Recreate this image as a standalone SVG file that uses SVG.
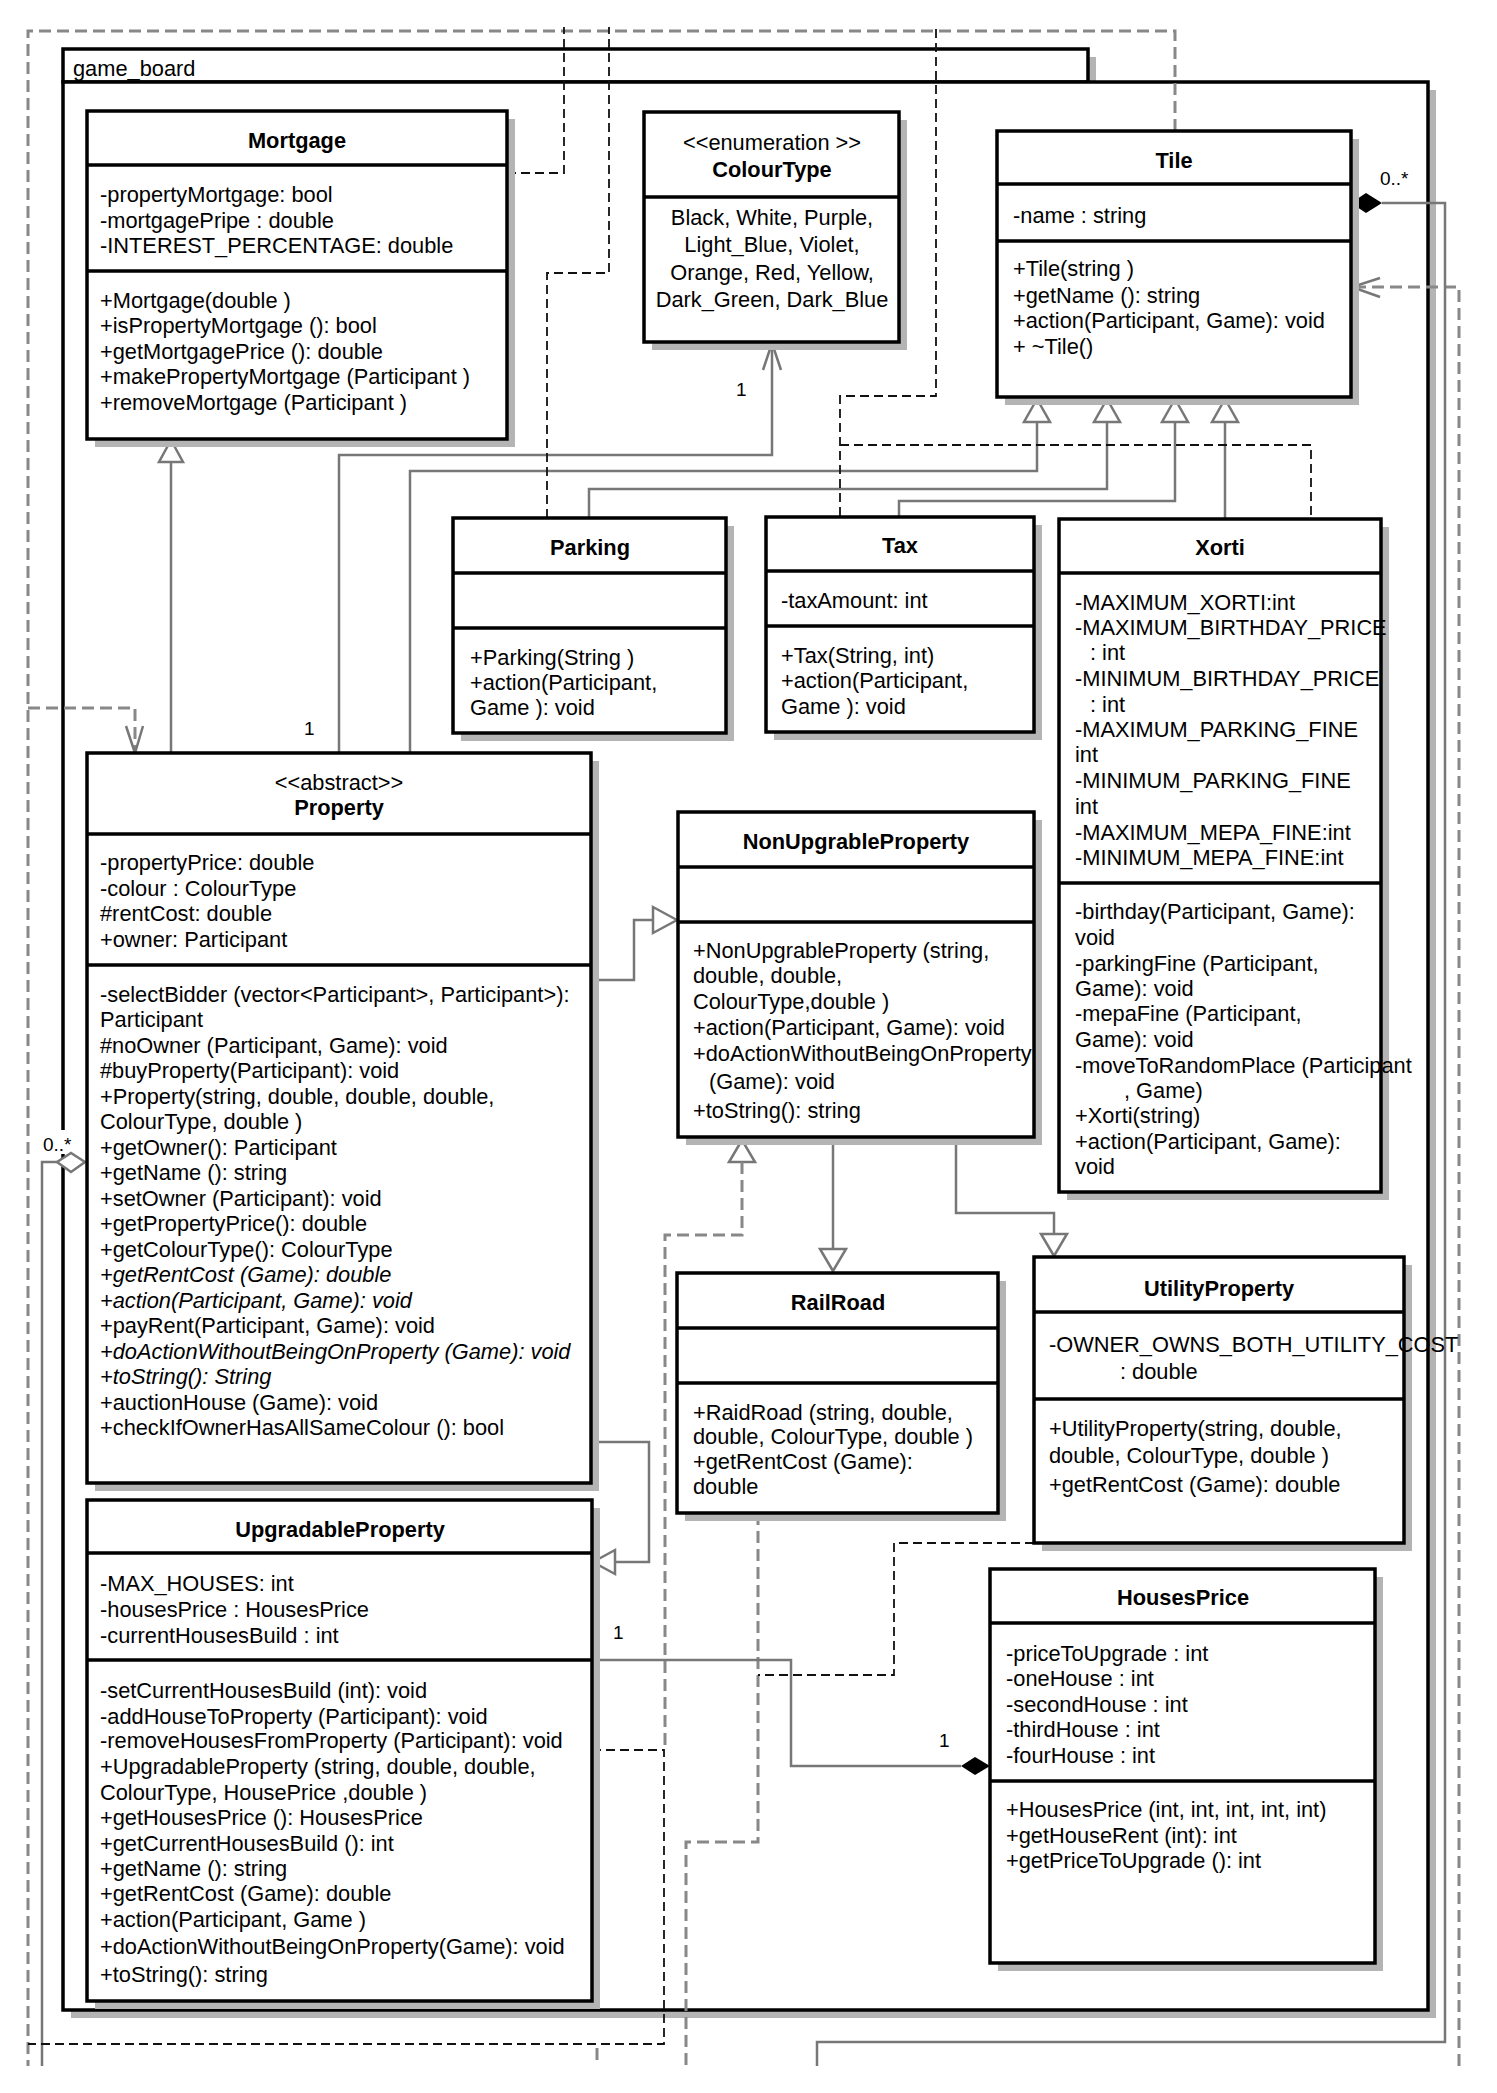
<svg xmlns="http://www.w3.org/2000/svg" width="1497" height="2093" viewBox="0 0 1497 2093">
<style>
.t{font-family:"Liberation Sans",Arial,sans-serif;font-size:21.8px;fill:#000}
.b{font-weight:bold;text-anchor:middle}
.c{text-anchor:middle}
.i{font-style:italic}
.lbl{font-family:"Liberation Sans",Arial,sans-serif;font-size:19px;fill:#000}
.box{fill:#fff;stroke:#000;stroke-width:3.5}
.sh{fill:#b4b4b4}
.sep{stroke:#000;stroke-width:3.5}
.g{stroke:#777;stroke-width:2.5;fill:none}
.gd{stroke:#888;stroke-width:3;fill:none;stroke-dasharray:12 6}
.kd{stroke:#111;stroke-width:1.8;fill:none;stroke-dasharray:9 5}
.tri{fill:#fff;stroke:#777;stroke-width:2.5}
</style>
<rect width="1497" height="2093" fill="#fff"/>
<g id="package">
<rect class="sh" x="71" y="57" width="1025" height="33"/>
<rect class="sh" x="71" y="90" width="1365" height="1928"/>
<rect class="box" x="63" y="49" width="1025" height="33"/>
<rect class="box" x="63" y="82" width="1365" height="1928"/>
<text class="t" x="73" y="76">game_board</text>
</g>
<g id="connectors">
<path class="gd" d="M1175,131 V31 H28 V2066"/>
<path class="gd" d="M28,708 H135 V750"/>
<path class="g" d="M126,726 L135,753 L143,726"/>
<path class="gd" d="M1459,2066 V287 H1354"/>
<path class="g" d="M1380,278 L1352,287 L1380,297"/>
<path class="g" d="M1382,203 H1445 V2042 H817 V2066"/>
<polygon points="1351,203 1366,193 1382,203 1366,213" fill="#000"/>
<rect x="40" y="1130" width="38" height="24" fill="#fff"/>
<path class="g" d="M57,1162 H42 V2066"/>
<polygon points="57,1162 71,1153 85,1162 71,1172" fill="#fff" stroke="#777" stroke-width="2.5"/>
<path class="g" d="M171,753 V462"/>
<polygon class="tri" points="171,440 159,462 183,462"/>
<path class="g" d="M339,753 V455 H772 V344"/>
<path class="g" d="M763,370 L772,343 L781,370"/>
<path class="g" d="M410,753 V471 H1037 V422"/>
<path class="g" d="M589,518 V489 H1107 V422"/>
<path class="g" d="M899,517 V501 H1175 V422"/>
<path class="g" d="M1225,519 V422"/>
<polygon class="tri" points="1037,399 1024,422 1050,422"/>
<polygon class="tri" points="1107,399 1094,422 1120,422"/>
<polygon class="tri" points="1175,399 1162,422 1188,422"/>
<polygon class="tri" points="1225,399 1212,422 1238,422"/>
<path class="kd" d="M507,173 H564 V27"/>
<path class="kd" d="M547,518 V273 H609 V27"/>
<path class="kd" d="M840,516 V396 H936 V27"/>
<path class="kd" d="M840,445 H1311 V519"/>
<path class="g" d="M591,980 H634 V920 H653"/>
<polygon class="tri" points="677,920 653,907 653,933"/>
<path class="g" d="M591,1442 H649 V1562 H615"/>
<polygon class="tri" points="593,1562 615,1550 615,1574"/>
<path class="g" d="M833,1137 V1249"/>
<polygon class="tri" points="833,1271 820,1249 846,1249"/>
<path class="g" d="M956,1137 V1213 H1054 V1234"/>
<polygon class="tri" points="1054,1256 1041,1234 1067,1234"/>
<polygon class="tri" points="742,1140 729,1162 755,1162"/>
<path class="gd" d="M742,1162 V1235 H665 V1750"/>
<path class="kd" d="M592,1750 H664 V2044 H28"/>
<path class="gd" d="M597,2048 V2066"/>
<path class="gd" d="M758,1513 V1842 H686 V2066"/>
<path class="kd" d="M1034,1543 H894 V1675 H758"/>
<path class="g" d="M592,1660 H791 V1766 H961"/>
<polygon points="961,1766 975,1757 990,1766 975,1775" fill="#000"/>
<text class="lbl" x="304" y="735">1</text>
<text class="lbl" x="736" y="396">1</text>
<text class="lbl" x="1380" y="185">0..*</text>
<text class="lbl" x="43" y="1151">0..*</text>
<text class="lbl" x="613" y="1639">1</text>
<text class="lbl" x="939" y="1747">1</text>
</g>
<g id="Mortgage">
<rect class="sh" x="95" y="119" width="420" height="328"/>
<rect class="box" x="87" y="111" width="420" height="328"/>
<line class="sep" x1="87" y1="165" x2="507" y2="165"/>
<line class="sep" x1="87" y1="271" x2="507" y2="271"/>
<text class="t b" x="297" y="148">Mortgage</text>
<text class="t" x="100" y="202">-propertyMortgage: bool</text>
<text class="t" x="100" y="228">-mortgagePripe : double</text>
<text class="t" x="100" y="253">-INTEREST_PERCENTAGE: double</text>
<text class="t" x="100" y="308">+Mortgage(double )</text>
<text class="t" x="100" y="333">+isPropertyMortgage (): bool</text>
<text class="t" x="100" y="359">+getMortgagePrice (): double</text>
<text class="t" x="100" y="384">+makePropertyMortgage (Participant )</text>
<text class="t" x="100" y="410">+removeMortgage (Participant )</text>
</g>
<g id="ColourType">
<rect class="sh" x="652" y="120" width="255" height="230"/>
<rect class="box" x="644" y="112" width="255" height="230"/>
<line class="sep" x1="644" y1="197" x2="899" y2="197"/>
<text class="t c" x="772" y="150">&lt;&lt;enumeration &gt;&gt;</text>
<text class="t b" x="772" y="177">ColourType</text>
<text class="t c" x="772" y="225">Black, White, Purple,</text>
<text class="t c" x="772" y="252">Light_Blue, Violet,</text>
<text class="t c" x="772" y="280">Orange, Red, Yellow,</text>
<text class="t c" x="772" y="307">Dark_Green, Dark_Blue</text>
</g>
<g id="Tile">
<rect class="sh" x="1005" y="139" width="354" height="266"/>
<rect class="box" x="997" y="131" width="354" height="266"/>
<line class="sep" x1="997" y1="184" x2="1351" y2="184"/>
<line class="sep" x1="997" y1="241" x2="1351" y2="241"/>
<text class="t b" x="1174" y="168">Tile</text>
<text class="t" x="1013" y="223">-name : string</text>
<text class="t" x="1013" y="276">+Tile(string )</text>
<text class="t" x="1013" y="303">+getName (): string</text>
<text class="t" x="1013" y="328">+action(Participant, Game): void</text>
<text class="t" x="1013" y="354">+ ~Tile()</text>
</g>
<g id="Parking">
<rect class="sh" x="461" y="526" width="273" height="215"/>
<rect class="box" x="453" y="518" width="273" height="215"/>
<line class="sep" x1="453" y1="573" x2="726" y2="573"/>
<line class="sep" x1="453" y1="628" x2="726" y2="628"/>
<text class="t b" x="590" y="555">Parking</text>
<text class="t" x="470" y="665">+Parking(String )</text>
<text class="t" x="470" y="690">+action(Participant,</text>
<text class="t" x="470" y="715">Game ): void</text>
</g>
<g id="Tax">
<rect class="sh" x="774" y="525" width="268" height="215"/>
<rect class="box" x="766" y="517" width="268" height="215"/>
<line class="sep" x1="766" y1="571" x2="1034" y2="571"/>
<line class="sep" x1="766" y1="626" x2="1034" y2="626"/>
<text class="t b" x="900" y="553">Tax</text>
<text class="t" x="781" y="608">-taxAmount: int</text>
<text class="t" x="781" y="663">+Tax(String, int)</text>
<text class="t" x="781" y="688">+action(Participant,</text>
<text class="t" x="781" y="714">Game ): void</text>
</g>
<g id="Xorti">
<rect class="sh" x="1067" y="527" width="322" height="673"/>
<rect class="box" x="1059" y="519" width="322" height="673"/>
<line class="sep" x1="1059" y1="573" x2="1381" y2="573"/>
<line class="sep" x1="1059" y1="883" x2="1381" y2="883"/>
<text class="t b" x="1220" y="555">Xorti</text>
<text class="t" x="1075" y="610">-MAXIMUM_XORTI:int</text>
<text class="t" x="1075" y="635">-MAXIMUM_BIRTHDAY_PRICE</text>
<text class="t" x="1090" y="660">: int</text>
<text class="t" x="1075" y="686">-MINIMUM_BIRTHDAY_PRICE</text>
<text class="t" x="1090" y="712">: int</text>
<text class="t" x="1075" y="737">-MAXIMUM_PARKING_FINE</text>
<text class="t" x="1075" y="762">int</text>
<text class="t" x="1075" y="788">-MINIMUM_PARKING_FINE</text>
<text class="t" x="1075" y="814">int</text>
<text class="t" x="1075" y="840">-MAXIMUM_MEPA_FINE:int</text>
<text class="t" x="1075" y="865">-MINIMUM_MEPA_FINE:int</text>
<text class="t" x="1075" y="919">-birthday(Participant, Game):</text>
<text class="t" x="1075" y="945">void</text>
<text class="t" x="1075" y="971">-parkingFine (Participant,</text>
<text class="t" x="1075" y="996">Game): void</text>
<text class="t" x="1075" y="1021">-mepaFine (Participant,</text>
<text class="t" x="1075" y="1047">Game): void</text>
<text class="t" x="1075" y="1073">-moveToRandomPlace (Participant</text>
<text class="t" x="1124" y="1098">, Game)</text>
<text class="t" x="1075" y="1123">+Xorti(string)</text>
<text class="t" x="1075" y="1149">+action(Participant, Game):</text>
<text class="t" x="1075" y="1174">void</text>
</g>
<g id="Property">
<rect class="sh" x="95" y="761" width="504" height="730"/>
<rect class="box" x="87" y="753" width="504" height="730"/>
<line class="sep" x1="87" y1="834" x2="591" y2="834"/>
<line class="sep" x1="87" y1="965" x2="591" y2="965"/>
<text class="t c" x="339" y="790">&lt;&lt;abstract&gt;&gt;</text>
<text class="t b" x="339" y="815">Property</text>
<text class="t" x="100" y="870">-propertyPrice: double</text>
<text class="t" x="100" y="896">-colour : ColourType</text>
<text class="t" x="100" y="921">#rentCost: double</text>
<text class="t" x="100" y="947">+owner: Participant</text>
<text class="t" x="100" y="1002">-selectBidder (vector&lt;Participant&gt;, Participant&gt;):</text>
<text class="t" x="100" y="1027">Participant</text>
<text class="t" x="100" y="1053">#noOwner (Participant, Game): void</text>
<text class="t" x="100" y="1078">#buyProperty(Participant): void</text>
<text class="t" x="100" y="1104">+Property(string, double, double, double,</text>
<text class="t" x="100" y="1129">ColourType, double )</text>
<text class="t" x="100" y="1155">+getOwner(): Participant</text>
<text class="t" x="100" y="1180">+getName (): string</text>
<text class="t" x="100" y="1206">+setOwner (Participant): void</text>
<text class="t" x="100" y="1231">+getPropertyPrice(): double</text>
<text class="t" x="100" y="1257">+getColourType(): ColourType</text>
<text class="t i" x="100" y="1282">+getRentCost (Game): double</text>
<text class="t i" x="100" y="1308">+action(Participant, Game): void</text>
<text class="t" x="100" y="1333">+payRent(Participant, Game): void</text>
<text class="t i" x="100" y="1359">+doActionWithoutBeingOnProperty (Game): void</text>
<text class="t i" x="100" y="1384">+toString(): String</text>
<text class="t" x="100" y="1410">+auctionHouse (Game): void</text>
<text class="t" x="100" y="1435">+checkIfOwnerHasAllSameColour (): bool</text>
</g>
<g id="NonUpgrableProperty">
<rect class="sh" x="686" y="820" width="356" height="325"/>
<rect class="box" x="678" y="812" width="356" height="325"/>
<line class="sep" x1="678" y1="867" x2="1034" y2="867"/>
<line class="sep" x1="678" y1="922" x2="1034" y2="922"/>
<text class="t b" x="856" y="849">NonUpgrableProperty</text>
<text class="t" x="693" y="958">+NonUpgrableProperty (string,</text>
<text class="t" x="693" y="983">double, double,</text>
<text class="t" x="693" y="1009">ColourType,double )</text>
<text class="t" x="693" y="1035">+action(Participant, Game): void</text>
<text class="t" x="693" y="1061">+doActionWithoutBeingOnProperty</text>
<text class="t" x="709" y="1089">(Game): void</text>
<text class="t" x="693" y="1118">+toString(): string</text>
</g>
<g id="RailRoad">
<rect class="sh" x="685" y="1281" width="321" height="240"/>
<rect class="box" x="677" y="1273" width="321" height="240"/>
<line class="sep" x1="677" y1="1328" x2="998" y2="1328"/>
<line class="sep" x1="677" y1="1383" x2="998" y2="1383"/>
<text class="t b" x="838" y="1310">RailRoad</text>
<text class="t" x="693" y="1420">+RaidRoad (string, double,</text>
<text class="t" x="693" y="1444">double, ColourType, double )</text>
<text class="t" x="693" y="1469">+getRentCost (Game):</text>
<text class="t" x="693" y="1494">double</text>
</g>
<g id="UtilityProperty">
<rect class="sh" x="1042" y="1265" width="370" height="286"/>
<rect class="box" x="1034" y="1257" width="370" height="286"/>
<line class="sep" x1="1034" y1="1312" x2="1404" y2="1312"/>
<line class="sep" x1="1034" y1="1399" x2="1404" y2="1399"/>
<text class="t b" x="1219" y="1296">UtilityProperty</text>
<text class="t" x="1049" y="1352">-OWNER_OWNS_BOTH_UTILITY_COST</text>
<text class="t" x="1120" y="1379">: double</text>
<text class="t" x="1049" y="1436">+UtilityProperty(string, double,</text>
<text class="t" x="1049" y="1463">double, ColourType, double )</text>
<text class="t" x="1049" y="1492">+getRentCost (Game): double</text>
</g>
<g id="HousesPrice">
<rect class="sh" x="998" y="1577" width="385" height="394"/>
<rect class="box" x="990" y="1569" width="385" height="394"/>
<line class="sep" x1="990" y1="1623" x2="1375" y2="1623"/>
<line class="sep" x1="990" y1="1781" x2="1375" y2="1781"/>
<text class="t b" x="1183" y="1605">HousesPrice</text>
<text class="t" x="1006" y="1661">-priceToUpgrade : int</text>
<text class="t" x="1006" y="1686">-oneHouse : int</text>
<text class="t" x="1006" y="1712">-secondHouse : int</text>
<text class="t" x="1006" y="1737">-thirdHouse : int</text>
<text class="t" x="1006" y="1763">-fourHouse : int</text>
<text class="t" x="1006" y="1817">+HousesPrice (int, int, int, int, int)</text>
<text class="t" x="1006" y="1843">+getHouseRent (int): int</text>
<text class="t" x="1006" y="1868">+getPriceToUpgrade (): int</text>
</g>
<g id="UpgradableProperty">
<rect class="sh" x="95" y="1508" width="505" height="501"/>
<rect class="box" x="87" y="1500" width="505" height="501"/>
<line class="sep" x1="87" y1="1553" x2="592" y2="1553"/>
<line class="sep" x1="87" y1="1660" x2="592" y2="1660"/>
<text class="t b" x="340" y="1537">UpgradableProperty</text>
<text class="t" x="100" y="1591">-MAX_HOUSES: int</text>
<text class="t" x="100" y="1617">-housesPrice : HousesPrice</text>
<text class="t" x="100" y="1643">-currentHousesBuild : int</text>
<text class="t" x="100" y="1698">-setCurrentHousesBuild (int): void</text>
<text class="t" x="100" y="1724">-addHouseToProperty (Participant): void</text>
<text class="t" x="100" y="1748">-removeHousesFromProperty (Participant): void</text>
<text class="t" x="100" y="1774">+UpgradableProperty (string, double, double,</text>
<text class="t" x="100" y="1800">ColourType, HousePrice ,double )</text>
<text class="t" x="100" y="1825">+getHousesPrice (): HousesPrice</text>
<text class="t" x="100" y="1851">+getCurrentHousesBuild (): int</text>
<text class="t" x="100" y="1876">+getName (): string</text>
<text class="t" x="100" y="1901">+getRentCost (Game): double</text>
<text class="t" x="100" y="1927">+action(Participant, Game )</text>
<text class="t" x="100" y="1954">+doActionWithoutBeingOnProperty(Game): void</text>
<text class="t" x="100" y="1982">+toString(): string</text>
</g>
</svg>
